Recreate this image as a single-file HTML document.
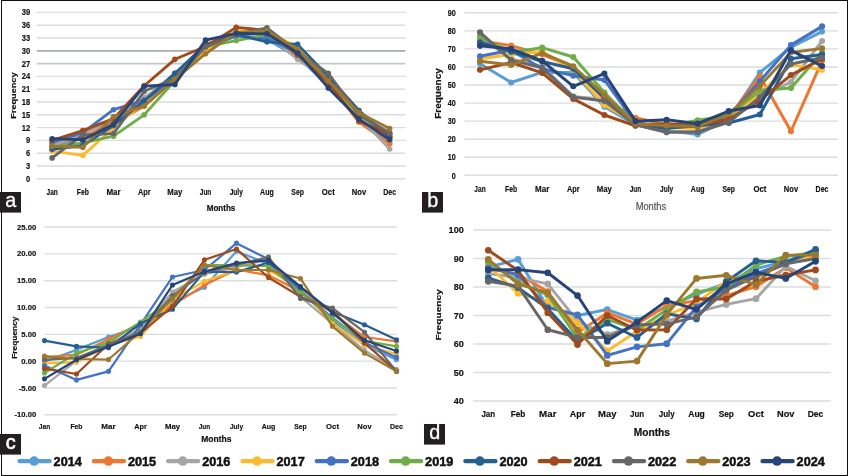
<!DOCTYPE html>
<html lang="en"><head><meta charset="utf-8"><title>Monthly frequency charts 2014-2024</title>
<style>html,body{margin:0;padding:0;background:#fff;}body{width:848px;height:476px;overflow:hidden;}svg{display:block;will-change:transform;}text{font-family:"Liberation Sans", Arial, Helvetica, sans-serif;}</style></head><body>
<svg width="848" height="476" viewBox="0 0 848 476">
<rect x="0" y="0" width="848" height="476" fill="#fff"/>
<g id="panel-a">
<line x1="36.80" x2="405.40" y1="178.80" y2="178.80" stroke="#dadddd" stroke-width="1.4"/>
<line x1="36.80" x2="405.40" y1="166.00" y2="166.00" stroke="#dadddd" stroke-width="1.4"/>
<line x1="36.80" x2="405.40" y1="153.20" y2="153.20" stroke="#dadddd" stroke-width="1.4"/>
<line x1="36.80" x2="405.40" y1="140.40" y2="140.40" stroke="#dadddd" stroke-width="1.4"/>
<line x1="36.80" x2="405.40" y1="127.60" y2="127.60" stroke="#dadddd" stroke-width="1.4"/>
<line x1="36.80" x2="405.40" y1="114.80" y2="114.80" stroke="#dadddd" stroke-width="1.4"/>
<line x1="36.80" x2="405.40" y1="102.00" y2="102.00" stroke="#dadddd" stroke-width="1.4"/>
<line x1="36.80" x2="405.40" y1="89.20" y2="89.20" stroke="#dadddd" stroke-width="1.4"/>
<line x1="36.80" x2="405.40" y1="76.40" y2="76.40" stroke="#dadddd" stroke-width="1.4"/>
<line x1="36.80" x2="405.40" y1="63.60" y2="63.60" stroke="#c3c7c7" stroke-width="1.8"/>
<line x1="36.80" x2="405.40" y1="50.80" y2="50.80" stroke="#a9adad" stroke-width="1.8"/>
<line x1="36.80" x2="405.40" y1="38.00" y2="38.00" stroke="#dadddd" stroke-width="1.4"/>
<line x1="36.80" x2="405.40" y1="25.20" y2="25.20" stroke="#dadddd" stroke-width="1.4"/>
<line x1="36.80" x2="405.40" y1="12.40" y2="12.40" stroke="#dadddd" stroke-width="1.4"/>
<text x="30.10" y="181.75" font-size="8.3" text-anchor="end" font-weight="bold" fill="#111" textLength="4.21" lengthAdjust="spacingAndGlyphs" stroke="#111" stroke-width="0.16">0</text>
<text x="30.10" y="168.95" font-size="8.3" text-anchor="end" font-weight="bold" fill="#111" textLength="4.21" lengthAdjust="spacingAndGlyphs" stroke="#111" stroke-width="0.16">3</text>
<text x="30.10" y="156.15" font-size="8.3" text-anchor="end" font-weight="bold" fill="#111" textLength="4.21" lengthAdjust="spacingAndGlyphs" stroke="#111" stroke-width="0.16">6</text>
<text x="30.10" y="143.35" font-size="8.3" text-anchor="end" font-weight="bold" fill="#111" textLength="4.21" lengthAdjust="spacingAndGlyphs" stroke="#111" stroke-width="0.16">9</text>
<text x="30.10" y="130.55" font-size="8.3" text-anchor="end" font-weight="bold" fill="#111" textLength="8.41" lengthAdjust="spacingAndGlyphs" stroke="#111" stroke-width="0.16">12</text>
<text x="30.10" y="117.75" font-size="8.3" text-anchor="end" font-weight="bold" fill="#111" textLength="8.41" lengthAdjust="spacingAndGlyphs" stroke="#111" stroke-width="0.16">15</text>
<text x="30.10" y="104.95" font-size="8.3" text-anchor="end" font-weight="bold" fill="#111" textLength="8.41" lengthAdjust="spacingAndGlyphs" stroke="#111" stroke-width="0.16">18</text>
<text x="30.10" y="92.15" font-size="8.3" text-anchor="end" font-weight="bold" fill="#111" textLength="8.41" lengthAdjust="spacingAndGlyphs" stroke="#111" stroke-width="0.16">21</text>
<text x="30.10" y="79.35" font-size="8.3" text-anchor="end" font-weight="bold" fill="#111" textLength="8.41" lengthAdjust="spacingAndGlyphs" stroke="#111" stroke-width="0.16">24</text>
<text x="30.10" y="66.55" font-size="8.3" text-anchor="end" font-weight="bold" fill="#111" textLength="8.41" lengthAdjust="spacingAndGlyphs" stroke="#111" stroke-width="0.16">27</text>
<text x="30.10" y="53.75" font-size="8.3" text-anchor="end" font-weight="bold" fill="#111" textLength="8.41" lengthAdjust="spacingAndGlyphs" stroke="#111" stroke-width="0.16">30</text>
<text x="30.10" y="40.95" font-size="8.3" text-anchor="end" font-weight="bold" fill="#111" textLength="8.41" lengthAdjust="spacingAndGlyphs" stroke="#111" stroke-width="0.16">33</text>
<text x="30.10" y="28.15" font-size="8.3" text-anchor="end" font-weight="bold" fill="#111" textLength="8.41" lengthAdjust="spacingAndGlyphs" stroke="#111" stroke-width="0.16">36</text>
<text x="30.10" y="15.35" font-size="8.3" text-anchor="end" font-weight="bold" fill="#111" textLength="8.41" lengthAdjust="spacingAndGlyphs" stroke="#111" stroke-width="0.16">39</text>
<text x="52.14" y="194.60" font-size="8.2" text-anchor="middle" font-weight="bold" fill="#111" textLength="11.30" lengthAdjust="spacingAndGlyphs" stroke="#111" stroke-width="0.16">Jan</text>
<text x="82.82" y="194.60" font-size="8.2" text-anchor="middle" font-weight="bold" fill="#111" textLength="12.07" lengthAdjust="spacingAndGlyphs" stroke="#111" stroke-width="0.16">Feb</text>
<text x="113.51" y="194.60" font-size="8.2" text-anchor="middle" font-weight="bold" fill="#111" textLength="14.23" lengthAdjust="spacingAndGlyphs" stroke="#111" stroke-width="0.16">Mar</text>
<text x="144.19" y="194.60" font-size="8.2" text-anchor="middle" font-weight="bold" fill="#111" textLength="12.62" lengthAdjust="spacingAndGlyphs" stroke="#111" stroke-width="0.16">Apr</text>
<text x="174.88" y="194.60" font-size="8.2" text-anchor="middle" font-weight="bold" fill="#111" textLength="15.13" lengthAdjust="spacingAndGlyphs" stroke="#111" stroke-width="0.16">May</text>
<text x="205.56" y="194.60" font-size="8.2" text-anchor="middle" font-weight="bold" fill="#111" textLength="11.52" lengthAdjust="spacingAndGlyphs" stroke="#111" stroke-width="0.16">Jun</text>
<text x="236.24" y="194.60" font-size="8.2" text-anchor="middle" font-weight="bold" fill="#111" textLength="13.17" lengthAdjust="spacingAndGlyphs" stroke="#111" stroke-width="0.16">July</text>
<text x="266.93" y="194.60" font-size="8.2" text-anchor="middle" font-weight="bold" fill="#111" textLength="13.64" lengthAdjust="spacingAndGlyphs" stroke="#111" stroke-width="0.16">Aug</text>
<text x="297.61" y="194.60" font-size="8.2" text-anchor="middle" font-weight="bold" fill="#111" textLength="12.52" lengthAdjust="spacingAndGlyphs" stroke="#111" stroke-width="0.16">Sep</text>
<text x="328.29" y="194.60" font-size="8.2" text-anchor="middle" font-weight="bold" fill="#111" textLength="12.95" lengthAdjust="spacingAndGlyphs" stroke="#111" stroke-width="0.16">Oct</text>
<text x="358.98" y="194.60" font-size="8.2" text-anchor="middle" font-weight="bold" fill="#111" textLength="14.32" lengthAdjust="spacingAndGlyphs" stroke="#111" stroke-width="0.16">Nov</text>
<text x="389.66" y="194.60" font-size="8.2" text-anchor="middle" font-weight="bold" fill="#111" textLength="12.88" lengthAdjust="spacingAndGlyphs" stroke="#111" stroke-width="0.16">Dec</text>
<text x="221.00" y="211.30" font-size="9.4" text-anchor="middle" font-weight="bold" fill="#111" textLength="28.60" lengthAdjust="spacingAndGlyphs" stroke="#111" stroke-width="0.2">Months</text>
<text x="16.20" y="95.60" font-size="7.8" text-anchor="middle" font-weight="bold" fill="#111" textLength="46.30" lengthAdjust="spacingAndGlyphs" transform="rotate(-90 16.20 95.60)" stroke="#111" stroke-width="0.16">Frequency</text>
<polyline points="52.14,146.80 82.82,138.27 113.51,121.20 144.19,99.87 174.88,73.41 205.56,48.67 236.24,35.87 266.93,39.28 297.61,57.20 328.29,84.93 358.98,119.07 389.66,142.53" fill="none" stroke="#579ED6" stroke-width="2.8" stroke-linejoin="round" stroke-linecap="round"/>
<circle cx="52.14" cy="146.80" r="2.8" fill="#579ED6"/>
<circle cx="82.82" cy="138.27" r="2.8" fill="#579ED6"/>
<circle cx="113.51" cy="121.20" r="2.8" fill="#579ED6"/>
<circle cx="144.19" cy="99.87" r="2.8" fill="#579ED6"/>
<circle cx="174.88" cy="73.41" r="2.8" fill="#579ED6"/>
<circle cx="205.56" cy="48.67" r="2.8" fill="#579ED6"/>
<circle cx="236.24" cy="35.87" r="2.8" fill="#579ED6"/>
<circle cx="266.93" cy="39.28" r="2.8" fill="#579ED6"/>
<circle cx="297.61" cy="57.20" r="2.8" fill="#579ED6"/>
<circle cx="328.29" cy="84.93" r="2.8" fill="#579ED6"/>
<circle cx="358.98" cy="119.07" r="2.8" fill="#579ED6"/>
<circle cx="389.66" cy="142.53" r="2.8" fill="#579ED6"/>
<polyline points="52.14,144.67 82.82,136.99 113.51,123.33 144.19,106.27 174.88,78.53 205.56,50.80 236.24,31.60 266.93,32.45 297.61,55.07 328.29,82.80 358.98,122.05 389.66,143.81" fill="none" stroke="#EE762F" stroke-width="2.8" stroke-linejoin="round" stroke-linecap="round"/>
<circle cx="52.14" cy="144.67" r="2.8" fill="#EE762F"/>
<circle cx="82.82" cy="136.99" r="2.8" fill="#EE762F"/>
<circle cx="113.51" cy="123.33" r="2.8" fill="#EE762F"/>
<circle cx="144.19" cy="106.27" r="2.8" fill="#EE762F"/>
<circle cx="174.88" cy="78.53" r="2.8" fill="#EE762F"/>
<circle cx="205.56" cy="50.80" r="2.8" fill="#EE762F"/>
<circle cx="236.24" cy="31.60" r="2.8" fill="#EE762F"/>
<circle cx="266.93" cy="32.45" r="2.8" fill="#EE762F"/>
<circle cx="297.61" cy="55.07" r="2.8" fill="#EE762F"/>
<circle cx="328.29" cy="82.80" r="2.8" fill="#EE762F"/>
<circle cx="358.98" cy="122.05" r="2.8" fill="#EE762F"/>
<circle cx="389.66" cy="143.81" r="2.8" fill="#EE762F"/>
<polyline points="52.14,145.52 82.82,134.00 113.51,119.07 144.19,97.73 174.88,76.40 205.56,48.67 236.24,33.73 266.93,33.73 297.61,59.33 328.29,80.67 358.98,116.93 389.66,148.93" fill="none" stroke="#A5A5A5" stroke-width="2.8" stroke-linejoin="round" stroke-linecap="round"/>
<circle cx="52.14" cy="145.52" r="2.8" fill="#A5A5A5"/>
<circle cx="82.82" cy="134.00" r="2.8" fill="#A5A5A5"/>
<circle cx="113.51" cy="119.07" r="2.8" fill="#A5A5A5"/>
<circle cx="144.19" cy="97.73" r="2.8" fill="#A5A5A5"/>
<circle cx="174.88" cy="76.40" r="2.8" fill="#A5A5A5"/>
<circle cx="205.56" cy="48.67" r="2.8" fill="#A5A5A5"/>
<circle cx="236.24" cy="33.73" r="2.8" fill="#A5A5A5"/>
<circle cx="266.93" cy="33.73" r="2.8" fill="#A5A5A5"/>
<circle cx="297.61" cy="59.33" r="2.8" fill="#A5A5A5"/>
<circle cx="328.29" cy="80.67" r="2.8" fill="#A5A5A5"/>
<circle cx="358.98" cy="116.93" r="2.8" fill="#A5A5A5"/>
<circle cx="389.66" cy="148.93" r="2.8" fill="#A5A5A5"/>
<polyline points="52.14,151.07 82.82,155.33 113.51,128.03 144.19,102.00 174.88,76.40 205.56,49.95 236.24,30.75 266.93,31.60 297.61,47.39 328.29,84.93 358.98,116.93 389.66,138.27" fill="none" stroke="#FDBA2C" stroke-width="2.8" stroke-linejoin="round" stroke-linecap="round"/>
<circle cx="52.14" cy="151.07" r="2.8" fill="#FDBA2C"/>
<circle cx="82.82" cy="155.33" r="2.8" fill="#FDBA2C"/>
<circle cx="113.51" cy="128.03" r="2.8" fill="#FDBA2C"/>
<circle cx="144.19" cy="102.00" r="2.8" fill="#FDBA2C"/>
<circle cx="174.88" cy="76.40" r="2.8" fill="#FDBA2C"/>
<circle cx="205.56" cy="49.95" r="2.8" fill="#FDBA2C"/>
<circle cx="236.24" cy="30.75" r="2.8" fill="#FDBA2C"/>
<circle cx="266.93" cy="31.60" r="2.8" fill="#FDBA2C"/>
<circle cx="297.61" cy="47.39" r="2.8" fill="#FDBA2C"/>
<circle cx="328.29" cy="84.93" r="2.8" fill="#FDBA2C"/>
<circle cx="358.98" cy="116.93" r="2.8" fill="#FDBA2C"/>
<circle cx="389.66" cy="138.27" r="2.8" fill="#FDBA2C"/>
<polyline points="52.14,142.53 82.82,132.72 113.51,109.68 144.19,100.29 174.88,78.53 205.56,46.53 236.24,35.87 266.93,38.00 297.61,52.93 328.29,78.53 358.98,114.80 389.66,136.13" fill="none" stroke="#4472C4" stroke-width="2.8" stroke-linejoin="round" stroke-linecap="round"/>
<circle cx="52.14" cy="142.53" r="2.8" fill="#4472C4"/>
<circle cx="82.82" cy="132.72" r="2.8" fill="#4472C4"/>
<circle cx="113.51" cy="109.68" r="2.8" fill="#4472C4"/>
<circle cx="144.19" cy="100.29" r="2.8" fill="#4472C4"/>
<circle cx="174.88" cy="78.53" r="2.8" fill="#4472C4"/>
<circle cx="205.56" cy="46.53" r="2.8" fill="#4472C4"/>
<circle cx="236.24" cy="35.87" r="2.8" fill="#4472C4"/>
<circle cx="266.93" cy="38.00" r="2.8" fill="#4472C4"/>
<circle cx="297.61" cy="52.93" r="2.8" fill="#4472C4"/>
<circle cx="328.29" cy="78.53" r="2.8" fill="#4472C4"/>
<circle cx="358.98" cy="114.80" r="2.8" fill="#4472C4"/>
<circle cx="389.66" cy="136.13" r="2.8" fill="#4472C4"/>
<polyline points="52.14,146.80 82.82,142.96 113.51,136.13 144.19,114.80 174.88,80.67 205.56,46.53 236.24,40.56 266.93,34.59 297.61,52.93 328.29,78.53 358.98,114.80 389.66,134.00" fill="none" stroke="#70AD47" stroke-width="2.8" stroke-linejoin="round" stroke-linecap="round"/>
<circle cx="52.14" cy="146.80" r="2.8" fill="#70AD47"/>
<circle cx="82.82" cy="142.96" r="2.8" fill="#70AD47"/>
<circle cx="113.51" cy="136.13" r="2.8" fill="#70AD47"/>
<circle cx="144.19" cy="114.80" r="2.8" fill="#70AD47"/>
<circle cx="174.88" cy="80.67" r="2.8" fill="#70AD47"/>
<circle cx="205.56" cy="46.53" r="2.8" fill="#70AD47"/>
<circle cx="236.24" cy="40.56" r="2.8" fill="#70AD47"/>
<circle cx="266.93" cy="34.59" r="2.8" fill="#70AD47"/>
<circle cx="297.61" cy="52.93" r="2.8" fill="#70AD47"/>
<circle cx="328.29" cy="78.53" r="2.8" fill="#70AD47"/>
<circle cx="358.98" cy="114.80" r="2.8" fill="#70AD47"/>
<circle cx="389.66" cy="134.00" r="2.8" fill="#70AD47"/>
<polyline points="52.14,149.36 82.82,145.52 113.51,125.47 144.19,101.15 174.88,73.41 205.56,44.40 236.24,34.59 266.93,41.84 297.61,44.40 328.29,76.40 358.98,110.53 389.66,136.99" fill="none" stroke="#255E91" stroke-width="2.8" stroke-linejoin="round" stroke-linecap="round"/>
<circle cx="52.14" cy="149.36" r="2.8" fill="#255E91"/>
<circle cx="82.82" cy="145.52" r="2.8" fill="#255E91"/>
<circle cx="113.51" cy="125.47" r="2.8" fill="#255E91"/>
<circle cx="144.19" cy="101.15" r="2.8" fill="#255E91"/>
<circle cx="174.88" cy="73.41" r="2.8" fill="#255E91"/>
<circle cx="205.56" cy="44.40" r="2.8" fill="#255E91"/>
<circle cx="236.24" cy="34.59" r="2.8" fill="#255E91"/>
<circle cx="266.93" cy="41.84" r="2.8" fill="#255E91"/>
<circle cx="297.61" cy="44.40" r="2.8" fill="#255E91"/>
<circle cx="328.29" cy="76.40" r="2.8" fill="#255E91"/>
<circle cx="358.98" cy="110.53" r="2.8" fill="#255E91"/>
<circle cx="389.66" cy="136.99" r="2.8" fill="#255E91"/>
<polyline points="52.14,140.40 82.82,130.59 113.51,118.64 144.19,85.79 174.88,59.33 205.56,46.53 236.24,27.33 266.93,30.32 297.61,55.07 328.29,82.80 358.98,121.20 389.66,134.00" fill="none" stroke="#A04A1C" stroke-width="2.8" stroke-linejoin="round" stroke-linecap="round"/>
<circle cx="52.14" cy="140.40" r="2.8" fill="#A04A1C"/>
<circle cx="82.82" cy="130.59" r="2.8" fill="#A04A1C"/>
<circle cx="113.51" cy="118.64" r="2.8" fill="#A04A1C"/>
<circle cx="144.19" cy="85.79" r="2.8" fill="#A04A1C"/>
<circle cx="174.88" cy="59.33" r="2.8" fill="#A04A1C"/>
<circle cx="205.56" cy="46.53" r="2.8" fill="#A04A1C"/>
<circle cx="236.24" cy="27.33" r="2.8" fill="#A04A1C"/>
<circle cx="266.93" cy="30.32" r="2.8" fill="#A04A1C"/>
<circle cx="297.61" cy="55.07" r="2.8" fill="#A04A1C"/>
<circle cx="328.29" cy="82.80" r="2.8" fill="#A04A1C"/>
<circle cx="358.98" cy="121.20" r="2.8" fill="#A04A1C"/>
<circle cx="389.66" cy="134.00" r="2.8" fill="#A04A1C"/>
<polyline points="52.14,157.89 82.82,134.85 113.51,133.57 144.19,91.33 174.88,78.53 205.56,46.96 236.24,34.59 266.93,27.76 297.61,51.65 328.29,73.41 358.98,114.80 389.66,132.72" fill="none" stroke="#676767" stroke-width="2.8" stroke-linejoin="round" stroke-linecap="round"/>
<circle cx="52.14" cy="157.89" r="2.8" fill="#676767"/>
<circle cx="82.82" cy="134.85" r="2.8" fill="#676767"/>
<circle cx="113.51" cy="133.57" r="2.8" fill="#676767"/>
<circle cx="144.19" cy="91.33" r="2.8" fill="#676767"/>
<circle cx="174.88" cy="78.53" r="2.8" fill="#676767"/>
<circle cx="205.56" cy="46.96" r="2.8" fill="#676767"/>
<circle cx="236.24" cy="34.59" r="2.8" fill="#676767"/>
<circle cx="266.93" cy="27.76" r="2.8" fill="#676767"/>
<circle cx="297.61" cy="51.65" r="2.8" fill="#676767"/>
<circle cx="328.29" cy="73.41" r="2.8" fill="#676767"/>
<circle cx="358.98" cy="114.80" r="2.8" fill="#676767"/>
<circle cx="389.66" cy="132.72" r="2.8" fill="#676767"/>
<polyline points="52.14,146.37 82.82,147.23 113.51,116.51 144.19,105.84 174.88,79.39 205.56,53.79 236.24,32.45 266.93,30.75 297.61,49.09 328.29,80.67 358.98,112.67 389.66,128.45" fill="none" stroke="#9D772D" stroke-width="2.8" stroke-linejoin="round" stroke-linecap="round"/>
<circle cx="52.14" cy="146.37" r="2.8" fill="#9D772D"/>
<circle cx="82.82" cy="147.23" r="2.8" fill="#9D772D"/>
<circle cx="113.51" cy="116.51" r="2.8" fill="#9D772D"/>
<circle cx="144.19" cy="105.84" r="2.8" fill="#9D772D"/>
<circle cx="174.88" cy="79.39" r="2.8" fill="#9D772D"/>
<circle cx="205.56" cy="53.79" r="2.8" fill="#9D772D"/>
<circle cx="236.24" cy="32.45" r="2.8" fill="#9D772D"/>
<circle cx="266.93" cy="30.75" r="2.8" fill="#9D772D"/>
<circle cx="297.61" cy="49.09" r="2.8" fill="#9D772D"/>
<circle cx="328.29" cy="80.67" r="2.8" fill="#9D772D"/>
<circle cx="358.98" cy="112.67" r="2.8" fill="#9D772D"/>
<circle cx="389.66" cy="128.45" r="2.8" fill="#9D772D"/>
<polyline points="52.14,138.69 82.82,139.97 113.51,124.19 144.19,86.21 174.88,84.51 205.56,40.13 236.24,33.31 266.93,33.73 297.61,52.93 328.29,87.92 358.98,119.07 389.66,139.55" fill="none" stroke="#264478" stroke-width="2.8" stroke-linejoin="round" stroke-linecap="round"/>
<circle cx="52.14" cy="138.69" r="2.8" fill="#264478"/>
<circle cx="82.82" cy="139.97" r="2.8" fill="#264478"/>
<circle cx="113.51" cy="124.19" r="2.8" fill="#264478"/>
<circle cx="144.19" cy="86.21" r="2.8" fill="#264478"/>
<circle cx="174.88" cy="84.51" r="2.8" fill="#264478"/>
<circle cx="205.56" cy="40.13" r="2.8" fill="#264478"/>
<circle cx="236.24" cy="33.31" r="2.8" fill="#264478"/>
<circle cx="266.93" cy="33.73" r="2.8" fill="#264478"/>
<circle cx="297.61" cy="52.93" r="2.8" fill="#264478"/>
<circle cx="328.29" cy="87.92" r="2.8" fill="#264478"/>
<circle cx="358.98" cy="119.07" r="2.8" fill="#264478"/>
<circle cx="389.66" cy="139.55" r="2.8" fill="#264478"/>
</g>
<g id="panel-b">
<line x1="464.45" x2="838.00" y1="175.30" y2="175.30" stroke="#dadddd" stroke-width="1.4"/>
<line x1="464.45" x2="838.00" y1="157.25" y2="157.25" stroke="#dadddd" stroke-width="1.4"/>
<line x1="464.45" x2="838.00" y1="139.19" y2="139.19" stroke="#dadddd" stroke-width="1.4"/>
<line x1="464.45" x2="838.00" y1="121.14" y2="121.14" stroke="#dadddd" stroke-width="1.4"/>
<line x1="464.45" x2="838.00" y1="103.08" y2="103.08" stroke="#dadddd" stroke-width="1.4"/>
<line x1="464.45" x2="838.00" y1="85.03" y2="85.03" stroke="#dadddd" stroke-width="1.4"/>
<line x1="464.45" x2="838.00" y1="66.97" y2="66.97" stroke="#dadddd" stroke-width="1.4"/>
<line x1="464.45" x2="838.00" y1="48.92" y2="48.92" stroke="#dadddd" stroke-width="1.4"/>
<line x1="464.45" x2="838.00" y1="30.86" y2="30.86" stroke="#dadddd" stroke-width="1.4"/>
<line x1="464.45" x2="838.00" y1="12.81" y2="12.81" stroke="#dadddd" stroke-width="1.4"/>
<text x="455.90" y="178.50" font-size="9.0" text-anchor="end" font-weight="bold" fill="#111" textLength="4.03" lengthAdjust="spacingAndGlyphs" stroke="#111" stroke-width="0.16">0</text>
<text x="455.90" y="160.44" font-size="9.0" text-anchor="end" font-weight="bold" fill="#111" textLength="8.06" lengthAdjust="spacingAndGlyphs" stroke="#111" stroke-width="0.16">10</text>
<text x="455.90" y="142.39" font-size="9.0" text-anchor="end" font-weight="bold" fill="#111" textLength="8.06" lengthAdjust="spacingAndGlyphs" stroke="#111" stroke-width="0.16">20</text>
<text x="455.90" y="124.34" font-size="9.0" text-anchor="end" font-weight="bold" fill="#111" textLength="8.06" lengthAdjust="spacingAndGlyphs" stroke="#111" stroke-width="0.16">30</text>
<text x="455.90" y="106.28" font-size="9.0" text-anchor="end" font-weight="bold" fill="#111" textLength="8.06" lengthAdjust="spacingAndGlyphs" stroke="#111" stroke-width="0.16">40</text>
<text x="455.90" y="88.23" font-size="9.0" text-anchor="end" font-weight="bold" fill="#111" textLength="8.06" lengthAdjust="spacingAndGlyphs" stroke="#111" stroke-width="0.16">50</text>
<text x="455.90" y="70.17" font-size="9.0" text-anchor="end" font-weight="bold" fill="#111" textLength="8.06" lengthAdjust="spacingAndGlyphs" stroke="#111" stroke-width="0.16">60</text>
<text x="455.90" y="52.12" font-size="9.0" text-anchor="end" font-weight="bold" fill="#111" textLength="8.06" lengthAdjust="spacingAndGlyphs" stroke="#111" stroke-width="0.16">70</text>
<text x="455.90" y="34.06" font-size="9.0" text-anchor="end" font-weight="bold" fill="#111" textLength="8.06" lengthAdjust="spacingAndGlyphs" stroke="#111" stroke-width="0.16">80</text>
<text x="455.90" y="16.01" font-size="9.0" text-anchor="end" font-weight="bold" fill="#111" textLength="8.06" lengthAdjust="spacingAndGlyphs" stroke="#111" stroke-width="0.16">90</text>
<text x="480.00" y="192.20" font-size="9.2" text-anchor="middle" font-weight="bold" fill="#111" textLength="11.30" lengthAdjust="spacingAndGlyphs" stroke="#111" stroke-width="0.16">Jan</text>
<text x="511.09" y="192.20" font-size="9.2" text-anchor="middle" font-weight="bold" fill="#111" textLength="12.07" lengthAdjust="spacingAndGlyphs" stroke="#111" stroke-width="0.16">Feb</text>
<text x="542.19" y="192.20" font-size="9.2" text-anchor="middle" font-weight="bold" fill="#111" textLength="14.23" lengthAdjust="spacingAndGlyphs" stroke="#111" stroke-width="0.16">Mar</text>
<text x="573.29" y="192.20" font-size="9.2" text-anchor="middle" font-weight="bold" fill="#111" textLength="12.62" lengthAdjust="spacingAndGlyphs" stroke="#111" stroke-width="0.16">Apr</text>
<text x="604.38" y="192.20" font-size="9.2" text-anchor="middle" font-weight="bold" fill="#111" textLength="15.13" lengthAdjust="spacingAndGlyphs" stroke="#111" stroke-width="0.16">May</text>
<text x="635.48" y="192.20" font-size="9.2" text-anchor="middle" font-weight="bold" fill="#111" textLength="11.52" lengthAdjust="spacingAndGlyphs" stroke="#111" stroke-width="0.16">Jun</text>
<text x="666.57" y="192.20" font-size="9.2" text-anchor="middle" font-weight="bold" fill="#111" textLength="13.17" lengthAdjust="spacingAndGlyphs" stroke="#111" stroke-width="0.16">July</text>
<text x="697.67" y="192.20" font-size="9.2" text-anchor="middle" font-weight="bold" fill="#111" textLength="13.64" lengthAdjust="spacingAndGlyphs" stroke="#111" stroke-width="0.16">Aug</text>
<text x="728.76" y="192.20" font-size="9.2" text-anchor="middle" font-weight="bold" fill="#111" textLength="12.52" lengthAdjust="spacingAndGlyphs" stroke="#111" stroke-width="0.16">Sep</text>
<text x="759.86" y="192.20" font-size="9.2" text-anchor="middle" font-weight="bold" fill="#111" textLength="12.95" lengthAdjust="spacingAndGlyphs" stroke="#111" stroke-width="0.16">Oct</text>
<text x="790.96" y="192.20" font-size="9.2" text-anchor="middle" font-weight="bold" fill="#111" textLength="14.32" lengthAdjust="spacingAndGlyphs" stroke="#111" stroke-width="0.16">Nov</text>
<text x="822.05" y="192.20" font-size="9.2" text-anchor="middle" font-weight="bold" fill="#111" textLength="12.88" lengthAdjust="spacingAndGlyphs" stroke="#111" stroke-width="0.16">Dec</text>
<text x="650.90" y="210.00" font-size="10" text-anchor="middle" font-weight="normal" fill="#505050" textLength="30.50" lengthAdjust="spacingAndGlyphs" stroke="#505050" stroke-width="0.15">Months</text>
<text x="441.10" y="93.50" font-size="8.3" text-anchor="middle" font-weight="bold" fill="#111" textLength="50.70" lengthAdjust="spacingAndGlyphs" transform="rotate(-90 441.10 93.50)" stroke="#111" stroke-width="0.16">Frequency</text>
<polyline points="480.00,63.72 511.09,82.50 542.19,72.39 573.29,72.39 604.38,106.69 635.48,124.75 666.57,130.16 697.67,134.50 728.76,119.33 759.86,72.57 790.96,47.11 822.05,31.58" fill="none" stroke="#579ED6" stroke-width="3.0" stroke-linejoin="round" stroke-linecap="round"/>
<circle cx="480.00" cy="63.72" r="3.05" fill="#579ED6"/>
<circle cx="511.09" cy="82.50" r="3.05" fill="#579ED6"/>
<circle cx="542.19" cy="72.39" r="3.05" fill="#579ED6"/>
<circle cx="573.29" cy="72.39" r="3.05" fill="#579ED6"/>
<circle cx="604.38" cy="106.69" r="3.05" fill="#579ED6"/>
<circle cx="635.48" cy="124.75" r="3.05" fill="#579ED6"/>
<circle cx="666.57" cy="130.16" r="3.05" fill="#579ED6"/>
<circle cx="697.67" cy="134.50" r="3.05" fill="#579ED6"/>
<circle cx="728.76" cy="119.33" r="3.05" fill="#579ED6"/>
<circle cx="759.86" cy="72.57" r="3.05" fill="#579ED6"/>
<circle cx="790.96" cy="47.11" r="3.05" fill="#579ED6"/>
<circle cx="822.05" cy="31.58" r="3.05" fill="#579ED6"/>
<polyline points="480.00,40.61 511.09,45.67 542.19,54.33 573.29,67.51 604.38,99.47 635.48,117.70 666.57,124.75 697.67,126.55 728.76,117.52 759.86,76.36 790.96,131.25 822.05,60.83" fill="none" stroke="#EE762F" stroke-width="3.0" stroke-linejoin="round" stroke-linecap="round"/>
<circle cx="480.00" cy="40.61" r="3.05" fill="#EE762F"/>
<circle cx="511.09" cy="45.67" r="3.05" fill="#EE762F"/>
<circle cx="542.19" cy="54.33" r="3.05" fill="#EE762F"/>
<circle cx="573.29" cy="67.51" r="3.05" fill="#EE762F"/>
<circle cx="604.38" cy="99.47" r="3.05" fill="#EE762F"/>
<circle cx="635.48" cy="117.70" r="3.05" fill="#EE762F"/>
<circle cx="666.57" cy="124.75" r="3.05" fill="#EE762F"/>
<circle cx="697.67" cy="126.55" r="3.05" fill="#EE762F"/>
<circle cx="728.76" cy="117.52" r="3.05" fill="#EE762F"/>
<circle cx="759.86" cy="76.36" r="3.05" fill="#EE762F"/>
<circle cx="790.96" cy="131.25" r="3.05" fill="#EE762F"/>
<circle cx="822.05" cy="60.83" r="3.05" fill="#EE762F"/>
<polyline points="480.00,36.28 511.09,58.85 542.19,66.43 573.29,96.40 604.38,99.47 635.48,124.75 666.57,131.97 697.67,131.07 728.76,121.14 759.86,97.66 790.96,81.96 822.05,40.97" fill="none" stroke="#A5A5A5" stroke-width="3.0" stroke-linejoin="round" stroke-linecap="round"/>
<circle cx="480.00" cy="36.28" r="3.05" fill="#A5A5A5"/>
<circle cx="511.09" cy="58.85" r="3.05" fill="#A5A5A5"/>
<circle cx="542.19" cy="66.43" r="3.05" fill="#A5A5A5"/>
<circle cx="573.29" cy="96.40" r="3.05" fill="#A5A5A5"/>
<circle cx="604.38" cy="99.47" r="3.05" fill="#A5A5A5"/>
<circle cx="635.48" cy="124.75" r="3.05" fill="#A5A5A5"/>
<circle cx="666.57" cy="131.97" r="3.05" fill="#A5A5A5"/>
<circle cx="697.67" cy="131.07" r="3.05" fill="#A5A5A5"/>
<circle cx="728.76" cy="121.14" r="3.05" fill="#A5A5A5"/>
<circle cx="759.86" cy="97.66" r="3.05" fill="#A5A5A5"/>
<circle cx="790.96" cy="81.96" r="3.05" fill="#A5A5A5"/>
<circle cx="822.05" cy="40.97" r="3.05" fill="#A5A5A5"/>
<polyline points="480.00,58.85 511.09,54.69 542.19,51.44 573.29,70.58 604.38,104.89 635.48,122.94 666.57,127.82 697.67,128.36 728.76,117.52 759.86,93.51 790.96,64.62 822.05,69.86" fill="none" stroke="#FDBA2C" stroke-width="3.0" stroke-linejoin="round" stroke-linecap="round"/>
<circle cx="480.00" cy="58.85" r="3.05" fill="#FDBA2C"/>
<circle cx="511.09" cy="54.69" r="3.05" fill="#FDBA2C"/>
<circle cx="542.19" cy="51.44" r="3.05" fill="#FDBA2C"/>
<circle cx="573.29" cy="70.58" r="3.05" fill="#FDBA2C"/>
<circle cx="604.38" cy="104.89" r="3.05" fill="#FDBA2C"/>
<circle cx="635.48" cy="122.94" r="3.05" fill="#FDBA2C"/>
<circle cx="666.57" cy="127.82" r="3.05" fill="#FDBA2C"/>
<circle cx="697.67" cy="128.36" r="3.05" fill="#FDBA2C"/>
<circle cx="728.76" cy="117.52" r="3.05" fill="#FDBA2C"/>
<circle cx="759.86" cy="93.51" r="3.05" fill="#FDBA2C"/>
<circle cx="790.96" cy="64.62" r="3.05" fill="#FDBA2C"/>
<circle cx="822.05" cy="69.86" r="3.05" fill="#FDBA2C"/>
<polyline points="480.00,56.32 511.09,50.18 542.19,68.78 573.29,75.64 604.38,79.97 635.48,122.94 666.57,126.55 697.67,126.55 728.76,115.72 759.86,81.41 790.96,45.12 822.05,26.35" fill="none" stroke="#4472C4" stroke-width="3.0" stroke-linejoin="round" stroke-linecap="round"/>
<circle cx="480.00" cy="56.32" r="3.05" fill="#4472C4"/>
<circle cx="511.09" cy="50.18" r="3.05" fill="#4472C4"/>
<circle cx="542.19" cy="68.78" r="3.05" fill="#4472C4"/>
<circle cx="573.29" cy="75.64" r="3.05" fill="#4472C4"/>
<circle cx="604.38" cy="79.97" r="3.05" fill="#4472C4"/>
<circle cx="635.48" cy="122.94" r="3.05" fill="#4472C4"/>
<circle cx="666.57" cy="126.55" r="3.05" fill="#4472C4"/>
<circle cx="697.67" cy="126.55" r="3.05" fill="#4472C4"/>
<circle cx="728.76" cy="115.72" r="3.05" fill="#4472C4"/>
<circle cx="759.86" cy="81.41" r="3.05" fill="#4472C4"/>
<circle cx="790.96" cy="45.12" r="3.05" fill="#4472C4"/>
<circle cx="822.05" cy="26.35" r="3.05" fill="#4472C4"/>
<polyline points="480.00,37.00 511.09,52.16 542.19,47.65 573.29,57.04 604.38,92.61 635.48,123.84 666.57,126.55 697.67,120.23 728.76,115.72 759.86,90.44 790.96,88.09 822.05,52.53" fill="none" stroke="#70AD47" stroke-width="3.0" stroke-linejoin="round" stroke-linecap="round"/>
<circle cx="480.00" cy="37.00" r="3.05" fill="#70AD47"/>
<circle cx="511.09" cy="52.16" r="3.05" fill="#70AD47"/>
<circle cx="542.19" cy="47.65" r="3.05" fill="#70AD47"/>
<circle cx="573.29" cy="57.04" r="3.05" fill="#70AD47"/>
<circle cx="604.38" cy="92.61" r="3.05" fill="#70AD47"/>
<circle cx="635.48" cy="123.84" r="3.05" fill="#70AD47"/>
<circle cx="666.57" cy="126.55" r="3.05" fill="#70AD47"/>
<circle cx="697.67" cy="120.23" r="3.05" fill="#70AD47"/>
<circle cx="728.76" cy="115.72" r="3.05" fill="#70AD47"/>
<circle cx="759.86" cy="90.44" r="3.05" fill="#70AD47"/>
<circle cx="790.96" cy="88.09" r="3.05" fill="#70AD47"/>
<circle cx="822.05" cy="52.53" r="3.05" fill="#70AD47"/>
<polyline points="480.00,42.23 511.09,51.44 542.19,61.55 573.29,68.78 604.38,97.66 635.48,124.75 666.57,128.36 697.67,125.65 728.76,122.94 759.86,114.45 790.96,58.85 822.05,54.51" fill="none" stroke="#255E91" stroke-width="3.0" stroke-linejoin="round" stroke-linecap="round"/>
<circle cx="480.00" cy="42.23" r="3.05" fill="#255E91"/>
<circle cx="511.09" cy="51.44" r="3.05" fill="#255E91"/>
<circle cx="542.19" cy="61.55" r="3.05" fill="#255E91"/>
<circle cx="573.29" cy="68.78" r="3.05" fill="#255E91"/>
<circle cx="604.38" cy="97.66" r="3.05" fill="#255E91"/>
<circle cx="635.48" cy="124.75" r="3.05" fill="#255E91"/>
<circle cx="666.57" cy="128.36" r="3.05" fill="#255E91"/>
<circle cx="697.67" cy="125.65" r="3.05" fill="#255E91"/>
<circle cx="728.76" cy="122.94" r="3.05" fill="#255E91"/>
<circle cx="759.86" cy="114.45" r="3.05" fill="#255E91"/>
<circle cx="790.96" cy="58.85" r="3.05" fill="#255E91"/>
<circle cx="822.05" cy="54.51" r="3.05" fill="#255E91"/>
<polyline points="480.00,69.86 511.09,62.46 542.19,72.93 573.29,98.93 604.38,115.00 635.48,125.83 666.57,123.84 697.67,125.65 728.76,119.33 759.86,100.37 790.96,75.09 822.05,58.85" fill="none" stroke="#A04A1C" stroke-width="3.0" stroke-linejoin="round" stroke-linecap="round"/>
<circle cx="480.00" cy="69.86" r="3.05" fill="#A04A1C"/>
<circle cx="511.09" cy="62.46" r="3.05" fill="#A04A1C"/>
<circle cx="542.19" cy="72.93" r="3.05" fill="#A04A1C"/>
<circle cx="573.29" cy="98.93" r="3.05" fill="#A04A1C"/>
<circle cx="604.38" cy="115.00" r="3.05" fill="#A04A1C"/>
<circle cx="635.48" cy="125.83" r="3.05" fill="#A04A1C"/>
<circle cx="666.57" cy="123.84" r="3.05" fill="#A04A1C"/>
<circle cx="697.67" cy="125.65" r="3.05" fill="#A04A1C"/>
<circle cx="728.76" cy="119.33" r="3.05" fill="#A04A1C"/>
<circle cx="759.86" cy="100.37" r="3.05" fill="#A04A1C"/>
<circle cx="790.96" cy="75.09" r="3.05" fill="#A04A1C"/>
<circle cx="822.05" cy="58.85" r="3.05" fill="#A04A1C"/>
<polyline points="480.00,32.30 511.09,60.11 542.19,67.87 573.29,97.12 604.38,100.91 635.48,124.75 666.57,132.33 697.67,131.97 728.76,122.40 759.86,97.12 790.96,64.08 822.05,57.76" fill="none" stroke="#676767" stroke-width="3.0" stroke-linejoin="round" stroke-linecap="round"/>
<circle cx="480.00" cy="32.30" r="3.05" fill="#676767"/>
<circle cx="511.09" cy="60.11" r="3.05" fill="#676767"/>
<circle cx="542.19" cy="67.87" r="3.05" fill="#676767"/>
<circle cx="573.29" cy="97.12" r="3.05" fill="#676767"/>
<circle cx="604.38" cy="100.91" r="3.05" fill="#676767"/>
<circle cx="635.48" cy="124.75" r="3.05" fill="#676767"/>
<circle cx="666.57" cy="132.33" r="3.05" fill="#676767"/>
<circle cx="697.67" cy="131.97" r="3.05" fill="#676767"/>
<circle cx="728.76" cy="122.40" r="3.05" fill="#676767"/>
<circle cx="759.86" cy="97.12" r="3.05" fill="#676767"/>
<circle cx="790.96" cy="64.08" r="3.05" fill="#676767"/>
<circle cx="822.05" cy="57.76" r="3.05" fill="#676767"/>
<polyline points="480.00,61.19 511.09,64.98 542.19,53.07 573.29,66.25 604.38,95.14 635.48,123.84 666.57,125.65 697.67,126.55 728.76,113.91 759.86,85.93 790.96,52.53 822.05,48.37" fill="none" stroke="#9D772D" stroke-width="3.0" stroke-linejoin="round" stroke-linecap="round"/>
<circle cx="480.00" cy="61.19" r="3.05" fill="#9D772D"/>
<circle cx="511.09" cy="64.98" r="3.05" fill="#9D772D"/>
<circle cx="542.19" cy="53.07" r="3.05" fill="#9D772D"/>
<circle cx="573.29" cy="66.25" r="3.05" fill="#9D772D"/>
<circle cx="604.38" cy="95.14" r="3.05" fill="#9D772D"/>
<circle cx="635.48" cy="123.84" r="3.05" fill="#9D772D"/>
<circle cx="666.57" cy="125.65" r="3.05" fill="#9D772D"/>
<circle cx="697.67" cy="126.55" r="3.05" fill="#9D772D"/>
<circle cx="728.76" cy="113.91" r="3.05" fill="#9D772D"/>
<circle cx="759.86" cy="85.93" r="3.05" fill="#9D772D"/>
<circle cx="790.96" cy="52.53" r="3.05" fill="#9D772D"/>
<circle cx="822.05" cy="48.37" r="3.05" fill="#9D772D"/>
<polyline points="480.00,45.85 511.09,48.92 542.19,60.83 573.29,86.29 604.38,73.65 635.48,121.14 666.57,119.69 697.67,123.66 728.76,111.02 759.86,105.43 790.96,50.36 822.05,66.07" fill="none" stroke="#264478" stroke-width="3.0" stroke-linejoin="round" stroke-linecap="round"/>
<circle cx="480.00" cy="45.85" r="3.05" fill="#264478"/>
<circle cx="511.09" cy="48.92" r="3.05" fill="#264478"/>
<circle cx="542.19" cy="60.83" r="3.05" fill="#264478"/>
<circle cx="573.29" cy="86.29" r="3.05" fill="#264478"/>
<circle cx="604.38" cy="73.65" r="3.05" fill="#264478"/>
<circle cx="635.48" cy="121.14" r="3.05" fill="#264478"/>
<circle cx="666.57" cy="119.69" r="3.05" fill="#264478"/>
<circle cx="697.67" cy="123.66" r="3.05" fill="#264478"/>
<circle cx="728.76" cy="111.02" r="3.05" fill="#264478"/>
<circle cx="759.86" cy="105.43" r="3.05" fill="#264478"/>
<circle cx="790.96" cy="50.36" r="3.05" fill="#264478"/>
<circle cx="822.05" cy="66.07" r="3.05" fill="#264478"/>
</g>
<g id="panel-c">
<line x1="44.50" x2="396.90" y1="414.78" y2="414.78" stroke="#dadddd" stroke-width="1.4"/>
<line x1="44.50" x2="396.90" y1="387.96" y2="387.96" stroke="#dadddd" stroke-width="1.4"/>
<line x1="44.50" x2="396.90" y1="361.15" y2="361.15" stroke="#dadddd" stroke-width="1.4"/>
<line x1="44.50" x2="396.90" y1="334.33" y2="334.33" stroke="#dadddd" stroke-width="1.4"/>
<line x1="44.50" x2="396.90" y1="307.52" y2="307.52" stroke="#dadddd" stroke-width="1.4"/>
<line x1="44.50" x2="396.90" y1="280.70" y2="280.70" stroke="#dadddd" stroke-width="1.4"/>
<line x1="44.50" x2="396.90" y1="253.89" y2="253.89" stroke="#dadddd" stroke-width="1.4"/>
<line x1="44.50" x2="396.90" y1="227.07" y2="227.07" stroke="#dadddd" stroke-width="1.4"/>
<text x="36.20" y="417.33" font-size="8.0" text-anchor="end" font-weight="bold" fill="#111" textLength="21.76" lengthAdjust="spacingAndGlyphs" stroke="#111" stroke-width="0.16">-10.00</text>
<text x="36.20" y="390.51" font-size="8.0" text-anchor="end" font-weight="bold" fill="#111" textLength="17.52" lengthAdjust="spacingAndGlyphs" stroke="#111" stroke-width="0.16">-5.00</text>
<text x="36.20" y="363.70" font-size="8.0" text-anchor="end" font-weight="bold" fill="#111" textLength="14.96" lengthAdjust="spacingAndGlyphs" stroke="#111" stroke-width="0.16">0.00</text>
<text x="36.20" y="336.88" font-size="8.0" text-anchor="end" font-weight="bold" fill="#111" textLength="14.96" lengthAdjust="spacingAndGlyphs" stroke="#111" stroke-width="0.16">5.00</text>
<text x="36.20" y="310.07" font-size="8.0" text-anchor="end" font-weight="bold" fill="#111" textLength="19.20" lengthAdjust="spacingAndGlyphs" stroke="#111" stroke-width="0.16">10.00</text>
<text x="36.20" y="283.25" font-size="8.0" text-anchor="end" font-weight="bold" fill="#111" textLength="19.20" lengthAdjust="spacingAndGlyphs" stroke="#111" stroke-width="0.16">15.00</text>
<text x="36.20" y="256.44" font-size="8.0" text-anchor="end" font-weight="bold" fill="#111" textLength="19.20" lengthAdjust="spacingAndGlyphs" stroke="#111" stroke-width="0.16">20.00</text>
<text x="36.20" y="229.62" font-size="8.0" text-anchor="end" font-weight="bold" fill="#111" textLength="19.20" lengthAdjust="spacingAndGlyphs" stroke="#111" stroke-width="0.16">25.00</text>
<text x="44.50" y="429.00" font-size="7.8" text-anchor="middle" font-weight="bold" fill="#111" textLength="11.30" lengthAdjust="spacingAndGlyphs" stroke="#111" stroke-width="0.16">Jan</text>
<text x="76.50" y="429.00" font-size="7.8" text-anchor="middle" font-weight="bold" fill="#111" textLength="12.07" lengthAdjust="spacingAndGlyphs" stroke="#111" stroke-width="0.16">Feb</text>
<text x="108.50" y="429.00" font-size="7.8" text-anchor="middle" font-weight="bold" fill="#111" textLength="14.23" lengthAdjust="spacingAndGlyphs" stroke="#111" stroke-width="0.16">Mar</text>
<text x="140.50" y="429.00" font-size="7.8" text-anchor="middle" font-weight="bold" fill="#111" textLength="12.62" lengthAdjust="spacingAndGlyphs" stroke="#111" stroke-width="0.16">Apr</text>
<text x="172.50" y="429.00" font-size="7.8" text-anchor="middle" font-weight="bold" fill="#111" textLength="15.13" lengthAdjust="spacingAndGlyphs" stroke="#111" stroke-width="0.16">May</text>
<text x="204.50" y="429.00" font-size="7.8" text-anchor="middle" font-weight="bold" fill="#111" textLength="11.52" lengthAdjust="spacingAndGlyphs" stroke="#111" stroke-width="0.16">Jun</text>
<text x="236.50" y="429.00" font-size="7.8" text-anchor="middle" font-weight="bold" fill="#111" textLength="13.17" lengthAdjust="spacingAndGlyphs" stroke="#111" stroke-width="0.16">July</text>
<text x="268.50" y="429.00" font-size="7.8" text-anchor="middle" font-weight="bold" fill="#111" textLength="13.64" lengthAdjust="spacingAndGlyphs" stroke="#111" stroke-width="0.16">Aug</text>
<text x="300.50" y="429.00" font-size="7.8" text-anchor="middle" font-weight="bold" fill="#111" textLength="12.52" lengthAdjust="spacingAndGlyphs" stroke="#111" stroke-width="0.16">Sep</text>
<text x="332.50" y="429.00" font-size="7.8" text-anchor="middle" font-weight="bold" fill="#111" textLength="12.95" lengthAdjust="spacingAndGlyphs" stroke="#111" stroke-width="0.16">Oct</text>
<text x="364.50" y="429.00" font-size="7.8" text-anchor="middle" font-weight="bold" fill="#111" textLength="14.32" lengthAdjust="spacingAndGlyphs" stroke="#111" stroke-width="0.16">Nov</text>
<text x="396.50" y="429.00" font-size="7.8" text-anchor="middle" font-weight="bold" fill="#111" textLength="12.88" lengthAdjust="spacingAndGlyphs" stroke="#111" stroke-width="0.16">Dec</text>
<text x="216.40" y="441.50" font-size="8.6" text-anchor="middle" font-weight="bold" fill="#111" textLength="30.20" lengthAdjust="spacingAndGlyphs" stroke="#111" stroke-width="0.2">Months</text>
<text x="16.90" y="337.65" font-size="7.4" text-anchor="middle" font-weight="bold" fill="#111" textLength="42.30" lengthAdjust="spacingAndGlyphs" transform="rotate(-90 16.90 337.65)" stroke="#111" stroke-width="0.16">Frequency</text>
<polyline points="44.50,361.69 76.50,349.89 108.50,337.02 140.50,326.29 172.50,302.16 204.50,287.14 236.50,251.21 268.50,264.08 300.50,291.43 332.50,320.93 364.50,345.06 396.50,359.81" fill="none" stroke="#579ED6" stroke-width="2.2" stroke-linejoin="round" stroke-linecap="round"/>
<circle cx="44.50" cy="361.69" r="2.55" fill="#579ED6"/>
<circle cx="76.50" cy="349.89" r="2.55" fill="#579ED6"/>
<circle cx="108.50" cy="337.02" r="2.55" fill="#579ED6"/>
<circle cx="140.50" cy="326.29" r="2.55" fill="#579ED6"/>
<circle cx="172.50" cy="302.16" r="2.55" fill="#579ED6"/>
<circle cx="204.50" cy="287.14" r="2.55" fill="#579ED6"/>
<circle cx="236.50" cy="251.21" r="2.55" fill="#579ED6"/>
<circle cx="268.50" cy="264.08" r="2.55" fill="#579ED6"/>
<circle cx="300.50" cy="291.43" r="2.55" fill="#579ED6"/>
<circle cx="332.50" cy="320.93" r="2.55" fill="#579ED6"/>
<circle cx="364.50" cy="345.06" r="2.55" fill="#579ED6"/>
<circle cx="396.50" cy="359.81" r="2.55" fill="#579ED6"/>
<polyline points="44.50,357.40 76.50,354.71 108.50,339.16 140.50,323.61 172.50,305.37 204.50,285.00 236.50,269.44 268.50,275.34 300.50,291.43 332.50,312.88 364.50,337.02 396.50,341.31" fill="none" stroke="#EE762F" stroke-width="2.2" stroke-linejoin="round" stroke-linecap="round"/>
<circle cx="44.50" cy="357.40" r="2.55" fill="#EE762F"/>
<circle cx="76.50" cy="354.71" r="2.55" fill="#EE762F"/>
<circle cx="108.50" cy="339.16" r="2.55" fill="#EE762F"/>
<circle cx="140.50" cy="323.61" r="2.55" fill="#EE762F"/>
<circle cx="172.50" cy="305.37" r="2.55" fill="#EE762F"/>
<circle cx="204.50" cy="285.00" r="2.55" fill="#EE762F"/>
<circle cx="236.50" cy="269.44" r="2.55" fill="#EE762F"/>
<circle cx="268.50" cy="275.34" r="2.55" fill="#EE762F"/>
<circle cx="300.50" cy="291.43" r="2.55" fill="#EE762F"/>
<circle cx="332.50" cy="312.88" r="2.55" fill="#EE762F"/>
<circle cx="364.50" cy="337.02" r="2.55" fill="#EE762F"/>
<circle cx="396.50" cy="341.31" r="2.55" fill="#EE762F"/>
<polyline points="44.50,385.55 76.50,360.61 108.50,343.45 140.50,328.97 172.50,291.97 204.50,274.27 236.50,267.30 268.50,259.25 300.50,296.79 332.50,323.61 364.50,350.42 396.50,369.19" fill="none" stroke="#A5A5A5" stroke-width="2.2" stroke-linejoin="round" stroke-linecap="round"/>
<circle cx="44.50" cy="385.55" r="2.55" fill="#A5A5A5"/>
<circle cx="76.50" cy="360.61" r="2.55" fill="#A5A5A5"/>
<circle cx="108.50" cy="343.45" r="2.55" fill="#A5A5A5"/>
<circle cx="140.50" cy="328.97" r="2.55" fill="#A5A5A5"/>
<circle cx="172.50" cy="291.97" r="2.55" fill="#A5A5A5"/>
<circle cx="204.50" cy="274.27" r="2.55" fill="#A5A5A5"/>
<circle cx="236.50" cy="267.30" r="2.55" fill="#A5A5A5"/>
<circle cx="268.50" cy="259.25" r="2.55" fill="#A5A5A5"/>
<circle cx="300.50" cy="296.79" r="2.55" fill="#A5A5A5"/>
<circle cx="332.50" cy="323.61" r="2.55" fill="#A5A5A5"/>
<circle cx="364.50" cy="350.42" r="2.55" fill="#A5A5A5"/>
<circle cx="396.50" cy="369.19" r="2.55" fill="#A5A5A5"/>
<polyline points="44.50,363.30 76.50,362.22 108.50,345.06 140.50,336.48 172.50,299.48 204.50,281.24 236.50,269.98 268.50,269.98 300.50,288.75 332.50,323.61 364.50,345.06 396.50,354.18" fill="none" stroke="#FDBA2C" stroke-width="2.2" stroke-linejoin="round" stroke-linecap="round"/>
<circle cx="44.50" cy="363.30" r="2.55" fill="#FDBA2C"/>
<circle cx="76.50" cy="362.22" r="2.55" fill="#FDBA2C"/>
<circle cx="108.50" cy="345.06" r="2.55" fill="#FDBA2C"/>
<circle cx="140.50" cy="336.48" r="2.55" fill="#FDBA2C"/>
<circle cx="172.50" cy="299.48" r="2.55" fill="#FDBA2C"/>
<circle cx="204.50" cy="281.24" r="2.55" fill="#FDBA2C"/>
<circle cx="236.50" cy="269.98" r="2.55" fill="#FDBA2C"/>
<circle cx="268.50" cy="269.98" r="2.55" fill="#FDBA2C"/>
<circle cx="300.50" cy="288.75" r="2.55" fill="#FDBA2C"/>
<circle cx="332.50" cy="323.61" r="2.55" fill="#FDBA2C"/>
<circle cx="364.50" cy="345.06" r="2.55" fill="#FDBA2C"/>
<circle cx="396.50" cy="354.18" r="2.55" fill="#FDBA2C"/>
<polyline points="44.50,365.44 76.50,379.92 108.50,371.34 140.50,324.68 172.50,276.95 204.50,269.98 236.50,243.16 268.50,259.25 300.50,291.43 332.50,317.71 364.50,342.38 396.50,357.40" fill="none" stroke="#4472C4" stroke-width="2.2" stroke-linejoin="round" stroke-linecap="round"/>
<circle cx="44.50" cy="365.44" r="2.55" fill="#4472C4"/>
<circle cx="76.50" cy="379.92" r="2.55" fill="#4472C4"/>
<circle cx="108.50" cy="371.34" r="2.55" fill="#4472C4"/>
<circle cx="140.50" cy="324.68" r="2.55" fill="#4472C4"/>
<circle cx="172.50" cy="276.95" r="2.55" fill="#4472C4"/>
<circle cx="204.50" cy="269.98" r="2.55" fill="#4472C4"/>
<circle cx="236.50" cy="243.16" r="2.55" fill="#4472C4"/>
<circle cx="268.50" cy="259.25" r="2.55" fill="#4472C4"/>
<circle cx="300.50" cy="291.43" r="2.55" fill="#4472C4"/>
<circle cx="332.50" cy="317.71" r="2.55" fill="#4472C4"/>
<circle cx="364.50" cy="342.38" r="2.55" fill="#4472C4"/>
<circle cx="396.50" cy="357.40" r="2.55" fill="#4472C4"/>
<polyline points="44.50,372.95 76.50,353.11 108.50,342.38 140.50,322.00 172.50,299.48 204.50,265.15 236.50,265.15 268.50,266.22 300.50,292.50 332.50,318.78 364.50,340.77 396.50,346.40" fill="none" stroke="#70AD47" stroke-width="2.2" stroke-linejoin="round" stroke-linecap="round"/>
<circle cx="44.50" cy="372.95" r="2.55" fill="#70AD47"/>
<circle cx="76.50" cy="353.11" r="2.55" fill="#70AD47"/>
<circle cx="108.50" cy="342.38" r="2.55" fill="#70AD47"/>
<circle cx="140.50" cy="322.00" r="2.55" fill="#70AD47"/>
<circle cx="172.50" cy="299.48" r="2.55" fill="#70AD47"/>
<circle cx="204.50" cy="265.15" r="2.55" fill="#70AD47"/>
<circle cx="236.50" cy="265.15" r="2.55" fill="#70AD47"/>
<circle cx="268.50" cy="266.22" r="2.55" fill="#70AD47"/>
<circle cx="300.50" cy="292.50" r="2.55" fill="#70AD47"/>
<circle cx="332.50" cy="318.78" r="2.55" fill="#70AD47"/>
<circle cx="364.50" cy="340.77" r="2.55" fill="#70AD47"/>
<circle cx="396.50" cy="346.40" r="2.55" fill="#70AD47"/>
<polyline points="44.50,340.61 76.50,346.40 108.50,347.74 140.50,323.61 172.50,309.13 204.50,271.59 236.50,272.12 268.50,262.47 300.50,287.68 332.50,311.81 364.50,324.68 396.50,339.70" fill="none" stroke="#255E91" stroke-width="2.2" stroke-linejoin="round" stroke-linecap="round"/>
<circle cx="44.50" cy="340.61" r="2.55" fill="#255E91"/>
<circle cx="76.50" cy="346.40" r="2.55" fill="#255E91"/>
<circle cx="108.50" cy="347.74" r="2.55" fill="#255E91"/>
<circle cx="140.50" cy="323.61" r="2.55" fill="#255E91"/>
<circle cx="172.50" cy="309.13" r="2.55" fill="#255E91"/>
<circle cx="204.50" cy="271.59" r="2.55" fill="#255E91"/>
<circle cx="236.50" cy="272.12" r="2.55" fill="#255E91"/>
<circle cx="268.50" cy="262.47" r="2.55" fill="#255E91"/>
<circle cx="300.50" cy="287.68" r="2.55" fill="#255E91"/>
<circle cx="332.50" cy="311.81" r="2.55" fill="#255E91"/>
<circle cx="364.50" cy="324.68" r="2.55" fill="#255E91"/>
<circle cx="396.50" cy="339.70" r="2.55" fill="#255E91"/>
<polyline points="44.50,368.66 76.50,374.02 108.50,343.99 140.50,333.26 172.50,306.45 204.50,259.79 236.50,249.06 268.50,277.49 300.50,296.79 332.50,310.74 364.50,342.92 396.50,371.34" fill="none" stroke="#A04A1C" stroke-width="2.2" stroke-linejoin="round" stroke-linecap="round"/>
<circle cx="44.50" cy="368.66" r="2.55" fill="#A04A1C"/>
<circle cx="76.50" cy="374.02" r="2.55" fill="#A04A1C"/>
<circle cx="108.50" cy="343.99" r="2.55" fill="#A04A1C"/>
<circle cx="140.50" cy="333.26" r="2.55" fill="#A04A1C"/>
<circle cx="172.50" cy="306.45" r="2.55" fill="#A04A1C"/>
<circle cx="204.50" cy="259.79" r="2.55" fill="#A04A1C"/>
<circle cx="236.50" cy="249.06" r="2.55" fill="#A04A1C"/>
<circle cx="268.50" cy="277.49" r="2.55" fill="#A04A1C"/>
<circle cx="300.50" cy="296.79" r="2.55" fill="#A04A1C"/>
<circle cx="332.50" cy="310.74" r="2.55" fill="#A04A1C"/>
<circle cx="364.50" cy="342.92" r="2.55" fill="#A04A1C"/>
<circle cx="396.50" cy="371.34" r="2.55" fill="#A04A1C"/>
<polyline points="44.50,359.81 76.50,357.93 108.50,345.06 140.50,331.65 172.50,295.72 204.50,272.66 236.50,264.62 268.50,257.11 300.50,298.40 332.50,308.06 364.50,332.19 396.50,371.34" fill="none" stroke="#676767" stroke-width="2.2" stroke-linejoin="round" stroke-linecap="round"/>
<circle cx="44.50" cy="359.81" r="2.55" fill="#676767"/>
<circle cx="76.50" cy="357.93" r="2.55" fill="#676767"/>
<circle cx="108.50" cy="345.06" r="2.55" fill="#676767"/>
<circle cx="140.50" cy="331.65" r="2.55" fill="#676767"/>
<circle cx="172.50" cy="295.72" r="2.55" fill="#676767"/>
<circle cx="204.50" cy="272.66" r="2.55" fill="#676767"/>
<circle cx="236.50" cy="264.62" r="2.55" fill="#676767"/>
<circle cx="268.50" cy="257.11" r="2.55" fill="#676767"/>
<circle cx="300.50" cy="298.40" r="2.55" fill="#676767"/>
<circle cx="332.50" cy="308.06" r="2.55" fill="#676767"/>
<circle cx="364.50" cy="332.19" r="2.55" fill="#676767"/>
<circle cx="396.50" cy="371.34" r="2.55" fill="#676767"/>
<polyline points="44.50,356.06 76.50,359.00 108.50,359.54 140.50,331.65 172.50,298.40 204.50,265.15 236.50,269.98 268.50,269.98 300.50,278.56 332.50,326.29 364.50,353.11 396.50,371.34" fill="none" stroke="#9D772D" stroke-width="2.2" stroke-linejoin="round" stroke-linecap="round"/>
<circle cx="44.50" cy="356.06" r="2.55" fill="#9D772D"/>
<circle cx="76.50" cy="359.00" r="2.55" fill="#9D772D"/>
<circle cx="108.50" cy="359.54" r="2.55" fill="#9D772D"/>
<circle cx="140.50" cy="331.65" r="2.55" fill="#9D772D"/>
<circle cx="172.50" cy="298.40" r="2.55" fill="#9D772D"/>
<circle cx="204.50" cy="265.15" r="2.55" fill="#9D772D"/>
<circle cx="236.50" cy="269.98" r="2.55" fill="#9D772D"/>
<circle cx="268.50" cy="269.98" r="2.55" fill="#9D772D"/>
<circle cx="300.50" cy="278.56" r="2.55" fill="#9D772D"/>
<circle cx="332.50" cy="326.29" r="2.55" fill="#9D772D"/>
<circle cx="364.50" cy="353.11" r="2.55" fill="#9D772D"/>
<circle cx="396.50" cy="371.34" r="2.55" fill="#9D772D"/>
<polyline points="44.50,378.85 76.50,359.81 108.50,346.67 140.50,333.80 172.50,285.00 204.50,271.59 236.50,263.01 268.50,260.33 300.50,286.60 332.50,312.88 364.50,340.23 396.50,350.96" fill="none" stroke="#264478" stroke-width="2.2" stroke-linejoin="round" stroke-linecap="round"/>
<circle cx="44.50" cy="378.85" r="2.55" fill="#264478"/>
<circle cx="76.50" cy="359.81" r="2.55" fill="#264478"/>
<circle cx="108.50" cy="346.67" r="2.55" fill="#264478"/>
<circle cx="140.50" cy="333.80" r="2.55" fill="#264478"/>
<circle cx="172.50" cy="285.00" r="2.55" fill="#264478"/>
<circle cx="204.50" cy="271.59" r="2.55" fill="#264478"/>
<circle cx="236.50" cy="263.01" r="2.55" fill="#264478"/>
<circle cx="268.50" cy="260.33" r="2.55" fill="#264478"/>
<circle cx="300.50" cy="286.60" r="2.55" fill="#264478"/>
<circle cx="332.50" cy="312.88" r="2.55" fill="#264478"/>
<circle cx="364.50" cy="340.23" r="2.55" fill="#264478"/>
<circle cx="396.50" cy="350.96" r="2.55" fill="#264478"/>
</g>
<g id="panel-d">
<line x1="473.40" x2="830.80" y1="401.00" y2="401.00" stroke="#dadddd" stroke-width="1.4"/>
<line x1="473.40" x2="830.80" y1="372.50" y2="372.50" stroke="#dadddd" stroke-width="1.4"/>
<line x1="473.40" x2="830.80" y1="344.00" y2="344.00" stroke="#dadddd" stroke-width="1.4"/>
<line x1="473.40" x2="830.80" y1="315.50" y2="315.50" stroke="#dadddd" stroke-width="1.4"/>
<line x1="473.40" x2="830.80" y1="287.00" y2="287.00" stroke="#dadddd" stroke-width="1.4"/>
<line x1="473.40" x2="830.80" y1="258.50" y2="258.50" stroke="#dadddd" stroke-width="1.4"/>
<line x1="473.40" x2="830.80" y1="230.00" y2="230.00" stroke="#dadddd" stroke-width="1.4"/>
<text x="463.80" y="404.30" font-size="8.8" text-anchor="end" font-weight="bold" fill="#111" textLength="10.14" lengthAdjust="spacingAndGlyphs" stroke="#111" stroke-width="0.16">40</text>
<text x="463.80" y="375.80" font-size="8.8" text-anchor="end" font-weight="bold" fill="#111" textLength="10.14" lengthAdjust="spacingAndGlyphs" stroke="#111" stroke-width="0.16">50</text>
<text x="463.80" y="347.30" font-size="8.8" text-anchor="end" font-weight="bold" fill="#111" textLength="10.14" lengthAdjust="spacingAndGlyphs" stroke="#111" stroke-width="0.16">60</text>
<text x="463.80" y="318.80" font-size="8.8" text-anchor="end" font-weight="bold" fill="#111" textLength="10.14" lengthAdjust="spacingAndGlyphs" stroke="#111" stroke-width="0.16">70</text>
<text x="463.80" y="290.30" font-size="8.8" text-anchor="end" font-weight="bold" fill="#111" textLength="10.14" lengthAdjust="spacingAndGlyphs" stroke="#111" stroke-width="0.16">80</text>
<text x="463.80" y="261.80" font-size="8.8" text-anchor="end" font-weight="bold" fill="#111" textLength="10.14" lengthAdjust="spacingAndGlyphs" stroke="#111" stroke-width="0.16">90</text>
<text x="463.80" y="233.30" font-size="8.8" text-anchor="end" font-weight="bold" fill="#111" textLength="15.20" lengthAdjust="spacingAndGlyphs" stroke="#111" stroke-width="0.16">100</text>
<text x="488.27" y="416.90" font-size="8.4" text-anchor="middle" font-weight="bold" fill="#111" textLength="13.75" lengthAdjust="spacingAndGlyphs" stroke="#111" stroke-width="0.16">Jan</text>
<text x="518.02" y="416.90" font-size="8.4" text-anchor="middle" font-weight="bold" fill="#111" textLength="14.69" lengthAdjust="spacingAndGlyphs" stroke="#111" stroke-width="0.16">Feb</text>
<text x="547.77" y="416.90" font-size="8.4" text-anchor="middle" font-weight="bold" fill="#111" textLength="17.32" lengthAdjust="spacingAndGlyphs" stroke="#111" stroke-width="0.16">Mar</text>
<text x="577.52" y="416.90" font-size="8.4" text-anchor="middle" font-weight="bold" fill="#111" textLength="15.36" lengthAdjust="spacingAndGlyphs" stroke="#111" stroke-width="0.16">Apr</text>
<text x="607.27" y="416.90" font-size="8.4" text-anchor="middle" font-weight="bold" fill="#111" textLength="18.42" lengthAdjust="spacingAndGlyphs" stroke="#111" stroke-width="0.16">May</text>
<text x="637.02" y="416.90" font-size="8.4" text-anchor="middle" font-weight="bold" fill="#111" textLength="14.02" lengthAdjust="spacingAndGlyphs" stroke="#111" stroke-width="0.16">Jun</text>
<text x="666.77" y="416.90" font-size="8.4" text-anchor="middle" font-weight="bold" fill="#111" textLength="16.03" lengthAdjust="spacingAndGlyphs" stroke="#111" stroke-width="0.16">July</text>
<text x="696.52" y="416.90" font-size="8.4" text-anchor="middle" font-weight="bold" fill="#111" textLength="16.60" lengthAdjust="spacingAndGlyphs" stroke="#111" stroke-width="0.16">Aug</text>
<text x="726.27" y="416.90" font-size="8.4" text-anchor="middle" font-weight="bold" fill="#111" textLength="15.24" lengthAdjust="spacingAndGlyphs" stroke="#111" stroke-width="0.16">Sep</text>
<text x="756.02" y="416.90" font-size="8.4" text-anchor="middle" font-weight="bold" fill="#111" textLength="15.76" lengthAdjust="spacingAndGlyphs" stroke="#111" stroke-width="0.16">Oct</text>
<text x="785.77" y="416.90" font-size="8.4" text-anchor="middle" font-weight="bold" fill="#111" textLength="17.42" lengthAdjust="spacingAndGlyphs" stroke="#111" stroke-width="0.16">Nov</text>
<text x="815.52" y="416.90" font-size="8.4" text-anchor="middle" font-weight="bold" fill="#111" textLength="15.68" lengthAdjust="spacingAndGlyphs" stroke="#111" stroke-width="0.16">Dec</text>
<text x="651.90" y="435.80" font-size="10" text-anchor="middle" font-weight="bold" fill="#111" textLength="36.20" lengthAdjust="spacingAndGlyphs" stroke="#111" stroke-width="0.2">Months</text>
<text x="440.70" y="314.85" font-size="8.0" text-anchor="middle" font-weight="bold" fill="#111" textLength="51.50" lengthAdjust="spacingAndGlyphs" transform="rotate(-90 440.70 314.85)" stroke="#111" stroke-width="0.16">Frequency</text>
<polyline points="488.27,267.05 518.02,259.36 547.77,306.95 577.52,315.50 607.27,309.51 637.02,320.06 666.77,306.95 696.52,294.41 726.27,282.73 756.02,268.76 785.77,261.35 815.52,250.52" fill="none" stroke="#579ED6" stroke-width="2.9" stroke-linejoin="round" stroke-linecap="round"/>
<circle cx="488.27" cy="267.05" r="3.35" fill="#579ED6"/>
<circle cx="518.02" cy="259.36" r="3.35" fill="#579ED6"/>
<circle cx="547.77" cy="306.95" r="3.35" fill="#579ED6"/>
<circle cx="577.52" cy="315.50" r="3.35" fill="#579ED6"/>
<circle cx="607.27" cy="309.51" r="3.35" fill="#579ED6"/>
<circle cx="637.02" cy="320.06" r="3.35" fill="#579ED6"/>
<circle cx="666.77" cy="306.95" r="3.35" fill="#579ED6"/>
<circle cx="696.52" cy="294.41" r="3.35" fill="#579ED6"/>
<circle cx="726.27" cy="282.73" r="3.35" fill="#579ED6"/>
<circle cx="756.02" cy="268.76" r="3.35" fill="#579ED6"/>
<circle cx="785.77" cy="261.35" r="3.35" fill="#579ED6"/>
<circle cx="815.52" cy="250.52" r="3.35" fill="#579ED6"/>
<polyline points="488.27,268.48 518.02,274.18 547.77,291.56 577.52,332.60 607.27,312.94 637.02,324.05 666.77,305.52 696.52,300.68 726.27,295.55 756.02,286.72 785.77,267.62 815.52,286.72" fill="none" stroke="#EE762F" stroke-width="2.9" stroke-linejoin="round" stroke-linecap="round"/>
<circle cx="488.27" cy="268.48" r="3.35" fill="#EE762F"/>
<circle cx="518.02" cy="274.18" r="3.35" fill="#EE762F"/>
<circle cx="547.77" cy="291.56" r="3.35" fill="#EE762F"/>
<circle cx="577.52" cy="332.60" r="3.35" fill="#EE762F"/>
<circle cx="607.27" cy="312.94" r="3.35" fill="#EE762F"/>
<circle cx="637.02" cy="324.05" r="3.35" fill="#EE762F"/>
<circle cx="666.77" cy="305.52" r="3.35" fill="#EE762F"/>
<circle cx="696.52" cy="300.68" r="3.35" fill="#EE762F"/>
<circle cx="726.27" cy="295.55" r="3.35" fill="#EE762F"/>
<circle cx="756.02" cy="286.72" r="3.35" fill="#EE762F"/>
<circle cx="785.77" cy="267.62" r="3.35" fill="#EE762F"/>
<circle cx="815.52" cy="286.72" r="3.35" fill="#EE762F"/>
<polyline points="488.27,273.61 518.02,277.60 547.77,283.87 577.52,321.20 607.27,334.60 637.02,325.48 666.77,321.20 696.52,312.08 726.27,304.38 756.02,298.68 785.77,266.19 815.52,280.73" fill="none" stroke="#A5A5A5" stroke-width="2.9" stroke-linejoin="round" stroke-linecap="round"/>
<circle cx="488.27" cy="273.61" r="3.35" fill="#A5A5A5"/>
<circle cx="518.02" cy="277.60" r="3.35" fill="#A5A5A5"/>
<circle cx="547.77" cy="283.87" r="3.35" fill="#A5A5A5"/>
<circle cx="577.52" cy="321.20" r="3.35" fill="#A5A5A5"/>
<circle cx="607.27" cy="334.60" r="3.35" fill="#A5A5A5"/>
<circle cx="637.02" cy="325.48" r="3.35" fill="#A5A5A5"/>
<circle cx="666.77" cy="321.20" r="3.35" fill="#A5A5A5"/>
<circle cx="696.52" cy="312.08" r="3.35" fill="#A5A5A5"/>
<circle cx="726.27" cy="304.38" r="3.35" fill="#A5A5A5"/>
<circle cx="756.02" cy="298.68" r="3.35" fill="#A5A5A5"/>
<circle cx="785.77" cy="266.19" r="3.35" fill="#A5A5A5"/>
<circle cx="815.52" cy="280.73" r="3.35" fill="#A5A5A5"/>
<polyline points="488.27,265.91 518.02,293.27 547.77,301.82 577.52,322.62 607.27,350.84 637.02,331.18 666.77,315.50 696.52,302.68 726.27,281.30 756.02,278.45 785.77,261.92 815.52,256.22" fill="none" stroke="#FDBA2C" stroke-width="2.9" stroke-linejoin="round" stroke-linecap="round"/>
<circle cx="488.27" cy="265.91" r="3.35" fill="#FDBA2C"/>
<circle cx="518.02" cy="293.27" r="3.35" fill="#FDBA2C"/>
<circle cx="547.77" cy="301.82" r="3.35" fill="#FDBA2C"/>
<circle cx="577.52" cy="322.62" r="3.35" fill="#FDBA2C"/>
<circle cx="607.27" cy="350.84" r="3.35" fill="#FDBA2C"/>
<circle cx="637.02" cy="331.18" r="3.35" fill="#FDBA2C"/>
<circle cx="666.77" cy="315.50" r="3.35" fill="#FDBA2C"/>
<circle cx="696.52" cy="302.68" r="3.35" fill="#FDBA2C"/>
<circle cx="726.27" cy="281.30" r="3.35" fill="#FDBA2C"/>
<circle cx="756.02" cy="278.45" r="3.35" fill="#FDBA2C"/>
<circle cx="785.77" cy="261.92" r="3.35" fill="#FDBA2C"/>
<circle cx="815.52" cy="256.22" r="3.35" fill="#FDBA2C"/>
<polyline points="488.27,267.62 518.02,275.03 547.77,307.52 577.52,314.93 607.27,355.40 637.02,346.85 666.77,343.71 696.52,306.95 726.27,288.14 756.02,273.89 785.77,262.77 815.52,251.38" fill="none" stroke="#4472C4" stroke-width="2.9" stroke-linejoin="round" stroke-linecap="round"/>
<circle cx="488.27" cy="267.62" r="3.35" fill="#4472C4"/>
<circle cx="518.02" cy="275.03" r="3.35" fill="#4472C4"/>
<circle cx="547.77" cy="307.52" r="3.35" fill="#4472C4"/>
<circle cx="577.52" cy="314.93" r="3.35" fill="#4472C4"/>
<circle cx="607.27" cy="355.40" r="3.35" fill="#4472C4"/>
<circle cx="637.02" cy="346.85" r="3.35" fill="#4472C4"/>
<circle cx="666.77" cy="343.71" r="3.35" fill="#4472C4"/>
<circle cx="696.52" cy="306.95" r="3.35" fill="#4472C4"/>
<circle cx="726.27" cy="288.14" r="3.35" fill="#4472C4"/>
<circle cx="756.02" cy="273.89" r="3.35" fill="#4472C4"/>
<circle cx="785.77" cy="262.77" r="3.35" fill="#4472C4"/>
<circle cx="815.52" cy="251.38" r="3.35" fill="#4472C4"/>
<polyline points="488.27,261.63 518.02,282.44 547.77,294.98 577.52,338.30 607.27,319.49 637.02,329.75 666.77,309.80 696.52,291.85 726.27,287.00 756.02,265.05 785.77,256.22 815.52,252.80" fill="none" stroke="#70AD47" stroke-width="2.9" stroke-linejoin="round" stroke-linecap="round"/>
<circle cx="488.27" cy="261.63" r="3.35" fill="#70AD47"/>
<circle cx="518.02" cy="282.44" r="3.35" fill="#70AD47"/>
<circle cx="547.77" cy="294.98" r="3.35" fill="#70AD47"/>
<circle cx="577.52" cy="338.30" r="3.35" fill="#70AD47"/>
<circle cx="607.27" cy="319.49" r="3.35" fill="#70AD47"/>
<circle cx="637.02" cy="329.75" r="3.35" fill="#70AD47"/>
<circle cx="666.77" cy="309.80" r="3.35" fill="#70AD47"/>
<circle cx="696.52" cy="291.85" r="3.35" fill="#70AD47"/>
<circle cx="726.27" cy="287.00" r="3.35" fill="#70AD47"/>
<circle cx="756.02" cy="265.05" r="3.35" fill="#70AD47"/>
<circle cx="785.77" cy="256.22" r="3.35" fill="#70AD47"/>
<circle cx="815.52" cy="252.80" r="3.35" fill="#70AD47"/>
<polyline points="488.27,277.88 518.02,287.57 547.77,308.66 577.52,341.15 607.27,323.19 637.02,337.44 666.77,313.79 696.52,318.92 726.27,281.58 756.02,260.78 785.77,262.49 815.52,249.38" fill="none" stroke="#255E91" stroke-width="2.9" stroke-linejoin="round" stroke-linecap="round"/>
<circle cx="488.27" cy="277.88" r="3.35" fill="#255E91"/>
<circle cx="518.02" cy="287.57" r="3.35" fill="#255E91"/>
<circle cx="547.77" cy="308.66" r="3.35" fill="#255E91"/>
<circle cx="577.52" cy="341.15" r="3.35" fill="#255E91"/>
<circle cx="607.27" cy="323.19" r="3.35" fill="#255E91"/>
<circle cx="637.02" cy="337.44" r="3.35" fill="#255E91"/>
<circle cx="666.77" cy="313.79" r="3.35" fill="#255E91"/>
<circle cx="696.52" cy="318.92" r="3.35" fill="#255E91"/>
<circle cx="726.27" cy="281.58" r="3.35" fill="#255E91"/>
<circle cx="756.02" cy="260.78" r="3.35" fill="#255E91"/>
<circle cx="785.77" cy="262.49" r="3.35" fill="#255E91"/>
<circle cx="815.52" cy="249.38" r="3.35" fill="#255E91"/>
<polyline points="488.27,250.23 518.02,270.47 547.77,312.65 577.52,344.57 607.27,315.50 637.02,330.03 666.77,329.75 696.52,298.97 726.27,298.97 756.02,281.30 785.77,275.03 815.52,269.90" fill="none" stroke="#A04A1C" stroke-width="2.9" stroke-linejoin="round" stroke-linecap="round"/>
<circle cx="488.27" cy="250.23" r="3.35" fill="#A04A1C"/>
<circle cx="518.02" cy="270.47" r="3.35" fill="#A04A1C"/>
<circle cx="547.77" cy="312.65" r="3.35" fill="#A04A1C"/>
<circle cx="577.52" cy="344.57" r="3.35" fill="#A04A1C"/>
<circle cx="607.27" cy="315.50" r="3.35" fill="#A04A1C"/>
<circle cx="637.02" cy="330.03" r="3.35" fill="#A04A1C"/>
<circle cx="666.77" cy="329.75" r="3.35" fill="#A04A1C"/>
<circle cx="696.52" cy="298.97" r="3.35" fill="#A04A1C"/>
<circle cx="726.27" cy="298.97" r="3.35" fill="#A04A1C"/>
<circle cx="756.02" cy="281.30" r="3.35" fill="#A04A1C"/>
<circle cx="785.77" cy="275.03" r="3.35" fill="#A04A1C"/>
<circle cx="815.52" cy="269.90" r="3.35" fill="#A04A1C"/>
<polyline points="488.27,281.30 518.02,286.14 547.77,329.75 577.52,337.44 607.27,337.44 637.02,324.90 666.77,324.05 696.52,316.93 726.27,290.13 756.02,276.45 785.77,263.92 815.52,258.50" fill="none" stroke="#676767" stroke-width="2.9" stroke-linejoin="round" stroke-linecap="round"/>
<circle cx="488.27" cy="281.30" r="3.35" fill="#676767"/>
<circle cx="518.02" cy="286.14" r="3.35" fill="#676767"/>
<circle cx="547.77" cy="329.75" r="3.35" fill="#676767"/>
<circle cx="577.52" cy="337.44" r="3.35" fill="#676767"/>
<circle cx="607.27" cy="337.44" r="3.35" fill="#676767"/>
<circle cx="637.02" cy="324.90" r="3.35" fill="#676767"/>
<circle cx="666.77" cy="324.05" r="3.35" fill="#676767"/>
<circle cx="696.52" cy="316.93" r="3.35" fill="#676767"/>
<circle cx="726.27" cy="290.13" r="3.35" fill="#676767"/>
<circle cx="756.02" cy="276.45" r="3.35" fill="#676767"/>
<circle cx="785.77" cy="263.92" r="3.35" fill="#676767"/>
<circle cx="815.52" cy="258.50" r="3.35" fill="#676767"/>
<polyline points="488.27,259.36 518.02,283.87 547.77,292.99 577.52,329.75 607.27,363.66 637.02,361.10 666.77,314.64 696.52,278.45 726.27,275.31 756.02,284.72 785.77,255.08 815.52,255.08" fill="none" stroke="#9D772D" stroke-width="2.9" stroke-linejoin="round" stroke-linecap="round"/>
<circle cx="488.27" cy="259.36" r="3.35" fill="#9D772D"/>
<circle cx="518.02" cy="283.87" r="3.35" fill="#9D772D"/>
<circle cx="547.77" cy="292.99" r="3.35" fill="#9D772D"/>
<circle cx="577.52" cy="329.75" r="3.35" fill="#9D772D"/>
<circle cx="607.27" cy="363.66" r="3.35" fill="#9D772D"/>
<circle cx="637.02" cy="361.10" r="3.35" fill="#9D772D"/>
<circle cx="666.77" cy="314.64" r="3.35" fill="#9D772D"/>
<circle cx="696.52" cy="278.45" r="3.35" fill="#9D772D"/>
<circle cx="726.27" cy="275.31" r="3.35" fill="#9D772D"/>
<circle cx="756.02" cy="284.72" r="3.35" fill="#9D772D"/>
<circle cx="785.77" cy="255.08" r="3.35" fill="#9D772D"/>
<circle cx="815.52" cy="255.08" r="3.35" fill="#9D772D"/>
<polyline points="488.27,269.90 518.02,269.62 547.77,272.75 577.52,295.55 607.27,341.15 637.02,322.06 666.77,300.68 696.52,309.51 726.27,284.15 756.02,272.18 785.77,278.45 815.52,261.35" fill="none" stroke="#264478" stroke-width="2.9" stroke-linejoin="round" stroke-linecap="round"/>
<circle cx="488.27" cy="269.90" r="3.35" fill="#264478"/>
<circle cx="518.02" cy="269.62" r="3.35" fill="#264478"/>
<circle cx="547.77" cy="272.75" r="3.35" fill="#264478"/>
<circle cx="577.52" cy="295.55" r="3.35" fill="#264478"/>
<circle cx="607.27" cy="341.15" r="3.35" fill="#264478"/>
<circle cx="637.02" cy="322.06" r="3.35" fill="#264478"/>
<circle cx="666.77" cy="300.68" r="3.35" fill="#264478"/>
<circle cx="696.52" cy="309.51" r="3.35" fill="#264478"/>
<circle cx="726.27" cy="284.15" r="3.35" fill="#264478"/>
<circle cx="756.02" cy="272.18" r="3.35" fill="#264478"/>
<circle cx="785.77" cy="278.45" r="3.35" fill="#264478"/>
<circle cx="815.52" cy="261.35" r="3.35" fill="#264478"/>
</g>
<line x1="19.60" x2="49.60" y1="461.1" y2="461.1" stroke="#579ED6" stroke-width="4.4" stroke-linecap="round"/>
<circle cx="34.10" cy="461.1" r="4.75" fill="#579ED6"/>
<text x="53.60" y="465.70" font-size="12.7" text-anchor="start" font-weight="bold" fill="#111" textLength="28.20" lengthAdjust="spacingAndGlyphs" stroke="#111" stroke-width="0.5">2014</text>
<line x1="93.90" x2="123.90" y1="461.1" y2="461.1" stroke="#EE762F" stroke-width="4.4" stroke-linecap="round"/>
<circle cx="108.40" cy="461.1" r="4.75" fill="#EE762F"/>
<text x="127.90" y="465.70" font-size="12.7" text-anchor="start" font-weight="bold" fill="#111" textLength="28.20" lengthAdjust="spacingAndGlyphs" stroke="#111" stroke-width="0.5">2015</text>
<line x1="168.20" x2="198.20" y1="461.1" y2="461.1" stroke="#A5A5A5" stroke-width="4.4" stroke-linecap="round"/>
<circle cx="182.70" cy="461.1" r="4.75" fill="#A5A5A5"/>
<text x="202.20" y="465.70" font-size="12.7" text-anchor="start" font-weight="bold" fill="#111" textLength="28.20" lengthAdjust="spacingAndGlyphs" stroke="#111" stroke-width="0.5">2016</text>
<line x1="242.50" x2="272.50" y1="461.1" y2="461.1" stroke="#FDBA2C" stroke-width="4.4" stroke-linecap="round"/>
<circle cx="257.00" cy="461.1" r="4.75" fill="#FDBA2C"/>
<text x="276.50" y="465.70" font-size="12.7" text-anchor="start" font-weight="bold" fill="#111" textLength="28.20" lengthAdjust="spacingAndGlyphs" stroke="#111" stroke-width="0.5">2017</text>
<line x1="316.80" x2="346.80" y1="461.1" y2="461.1" stroke="#4472C4" stroke-width="4.4" stroke-linecap="round"/>
<circle cx="331.30" cy="461.1" r="4.75" fill="#4472C4"/>
<text x="350.80" y="465.70" font-size="12.7" text-anchor="start" font-weight="bold" fill="#111" textLength="28.20" lengthAdjust="spacingAndGlyphs" stroke="#111" stroke-width="0.5">2018</text>
<line x1="391.10" x2="421.10" y1="461.1" y2="461.1" stroke="#70AD47" stroke-width="4.4" stroke-linecap="round"/>
<circle cx="405.60" cy="461.1" r="4.75" fill="#70AD47"/>
<text x="425.10" y="465.70" font-size="12.7" text-anchor="start" font-weight="bold" fill="#111" textLength="28.20" lengthAdjust="spacingAndGlyphs" stroke="#111" stroke-width="0.5">2019</text>
<line x1="465.40" x2="495.40" y1="461.1" y2="461.1" stroke="#255E91" stroke-width="4.4" stroke-linecap="round"/>
<circle cx="479.90" cy="461.1" r="4.75" fill="#255E91"/>
<text x="499.40" y="465.70" font-size="12.7" text-anchor="start" font-weight="bold" fill="#111" textLength="28.20" lengthAdjust="spacingAndGlyphs" stroke="#111" stroke-width="0.5">2020</text>
<line x1="539.70" x2="569.70" y1="461.1" y2="461.1" stroke="#A04A1C" stroke-width="4.4" stroke-linecap="round"/>
<circle cx="554.20" cy="461.1" r="4.75" fill="#A04A1C"/>
<text x="573.70" y="465.70" font-size="12.7" text-anchor="start" font-weight="bold" fill="#111" textLength="28.20" lengthAdjust="spacingAndGlyphs" stroke="#111" stroke-width="0.5">2021</text>
<line x1="614.00" x2="644.00" y1="461.1" y2="461.1" stroke="#676767" stroke-width="4.4" stroke-linecap="round"/>
<circle cx="628.50" cy="461.1" r="4.75" fill="#676767"/>
<text x="648.00" y="465.70" font-size="12.7" text-anchor="start" font-weight="bold" fill="#111" textLength="28.20" lengthAdjust="spacingAndGlyphs" stroke="#111" stroke-width="0.5">2022</text>
<line x1="688.30" x2="718.30" y1="461.1" y2="461.1" stroke="#9D772D" stroke-width="4.4" stroke-linecap="round"/>
<circle cx="702.80" cy="461.1" r="4.75" fill="#9D772D"/>
<text x="722.30" y="465.70" font-size="12.7" text-anchor="start" font-weight="bold" fill="#111" textLength="28.20" lengthAdjust="spacingAndGlyphs" stroke="#111" stroke-width="0.5">2023</text>
<line x1="762.60" x2="792.60" y1="461.1" y2="461.1" stroke="#264478" stroke-width="4.4" stroke-linecap="round"/>
<circle cx="777.10" cy="461.1" r="4.75" fill="#264478"/>
<text x="796.60" y="465.70" font-size="12.7" text-anchor="start" font-weight="bold" fill="#111" textLength="28.20" lengthAdjust="spacingAndGlyphs" stroke="#111" stroke-width="0.5">2024</text>
<rect x="1" y="0" width="1" height="476" fill="#111"/>
<rect x="1" y="0" width="847" height="1" fill="#111"/>
<rect x="847" y="0" width="1" height="476" fill="#111"/>
<rect x="1" y="475" width="847" height="1" fill="#111"/>
<rect x="0" y="192" width="21" height="20.6" fill="#231f20"/>
<text x="10.70" y="207.00" font-size="19.8" text-anchor="middle" font-weight="normal" fill="#fff" stroke="#fff" stroke-width="0.3">a</text>
<rect x="422" y="192" width="21" height="20.6" fill="#231f20"/>
<text x="432.70" y="207.00" font-size="19.8" text-anchor="middle" font-weight="normal" fill="#fff" stroke="#fff" stroke-width="0.3">b</text>
<rect x="0" y="434" width="21" height="20.6" fill="#231f20"/>
<text x="10.70" y="449.00" font-size="19.8" text-anchor="middle" font-weight="normal" fill="#fff" stroke="#fff" stroke-width="0.6">c</text>
<rect x="424" y="424" width="21" height="20.6" fill="#231f20"/>
<text x="434.70" y="439.00" font-size="19.8" text-anchor="middle" font-weight="normal" fill="#fff" stroke="#fff" stroke-width="0.3">d</text>
</svg></body></html>
